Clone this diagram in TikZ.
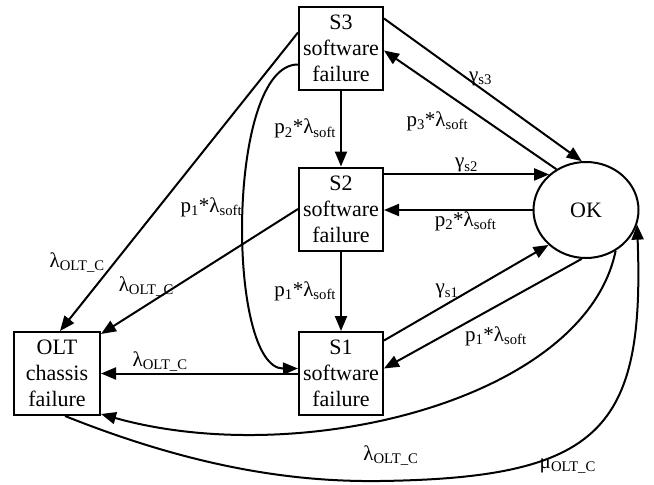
\documentclass[tikz,border=0pt]{standalone}
\usepackage{fontspec}
\setmainfont{Liberation Serif}[Ligatures=TeX]
\usetikzlibrary{arrows.meta,shapes.geometric,positioning}
\tikzset{%
    state_box/.style={%
        rectangle, draw, line width=2pt, minimum width=84pt, minimum height=83pt, inner sep=1pt, align=center, font=\rmfamily\fontsize{22}{26}\selectfont
    },
    ok_state/.style={%
        ellipse, draw, line width=2pt, minimum width=105pt, minimum height=96pt, inner sep=0pt, font=\rmfamily\fontsize{22}{26}\selectfont
    },
    trans/.style={%
        -{Triangle[length=15pt,width=12pt]}, line width=2pt
    },
    rate/.style={%
        font=\rmfamily\fontsize{21}{24}\selectfont, inner sep=1pt
    },
}
\begin{document}
\begin{tikzpicture}[x=1pt,y=-1pt]
  \useasboundingbox (0,0) rectangle (654,485);
  \node[state_box] (S3) at (341,48.5) {S3\\software\\failure};
  \node[state_box] (S2) at (341,209) {S2\\software\\failure};
  \node[state_box] (S1) at (341,373.5) {S1\\software\\failure};
  \node[state_box, minimum width=86pt] (OLT) at (57,373.5) {OLT\\chassis\\failure};
  \node[ok_state] (OK) at (586,210) {OK};

  \draw[trans] ([yshift=30pt]S3.east) -- (OK.95) node[rate, pos=0.42, anchor=west] {γ\textsubscript{s3}};
  \draw[trans] (OK.126) -- ([yshift=-2pt]S3.east) node[rate, pos=0.5, anchor=north east] {p\textsubscript{3}*λ\textsubscript{soft}};
  \draw[trans] (S3) -- (S2) node[rate, midway, left=3pt] {p\textsubscript{2}*λ\textsubscript{soft}};
  \draw[trans] (S2.east |- OK.136) -- (OK.136) node[rate, midway, above] {γ\textsubscript{s2}};
  \draw[trans] (OK.west) -- (S2.east |- OK.west) node[rate, pos=0.45, below] {p\textsubscript{2}*λ\textsubscript{soft}};
  \draw[trans] (S2) -- (S1) node[rate, midway, left=3pt] {p\textsubscript{1}*λ\textsubscript{soft}};
  \draw[trans] ([yshift=33pt]S1.east) -- (OK.223) node[rate, pos=0.42, above, xshift=-6pt] {γ\textsubscript{s1}};
  \draw[trans] (OK.265) -- ([yshift=5pt]S1.east) node[rate, pos=0.6, anchor=north west] {p\textsubscript{1}*λ\textsubscript{soft}};

  \draw[trans] ([yshift=16pt]S3.west) -- ([xshift=3pt]OLT.north) node[rate, pos=0.77, left=8pt] {λ\textsubscript{OLT\_C}};
  \draw[trans] (S2.west) -- ([yshift=-3pt]OLT.north east) node[rate, pos=0.62, anchor=east] {λ\textsubscript{OLT\_C}};
  \draw[trans] (S1.west) -- (OLT.east) node[rate, pos=0.7, above] {λ\textsubscript{OLT\_C}};
  \draw[trans] ([yshift=-16pt]S3.west) .. controls (226,64) and (226,369) .. ([yshift=5pt]S1.west) node[rate, pos=0.48, left] {p\textsubscript{1}*λ\textsubscript{soft}};

  % failures of the chassis and its repair
  \draw[trans] (OK.306) .. controls (585,400) and (300,470) .. ([yshift=2pt]OLT.south east) node[rate, pos=0.55, below=26pt] {λ\textsubscript{OLT\_C}};
  \draw[trans] ([xshift=8pt]OLT.south) .. controls (200,470) and (300,482) .. (380,481) .. controls (600,478) and (645,430) .. (OK.344) node[rate, pos=0.4, below, yshift=-8pt] {μ\textsubscript{OLT\_C}};
\end{tikzpicture}
\end{document}
